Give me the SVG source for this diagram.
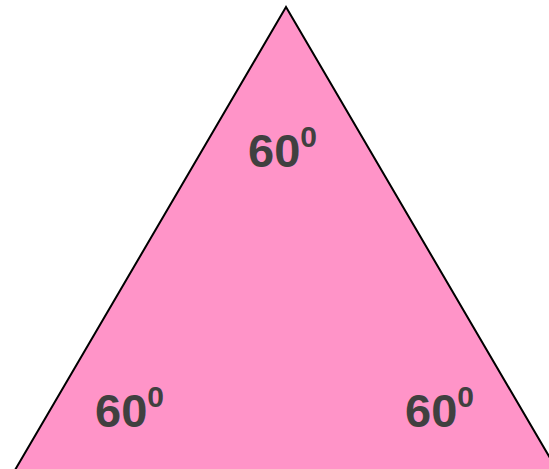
<svg xmlns="http://www.w3.org/2000/svg" width="549" height="469" viewBox="0 0 549 469">
<style>
.lbl{font-family:"Liberation Sans",Arial,sans-serif;font-weight:bold;fill:#404040;font-size:47px}
.sup{font-size:30px}
</style>
<rect width="549" height="469" fill="#ffffff"/>
<g id="triangle">
<polygon points="286,7 15,470 557,470" fill="#FF94C8" stroke="#000000" stroke-width="2" stroke-linejoin="miter"/>
</g>
<g id="angle-top"><text class="lbl" x="248" y="167">60<tspan class="sup" dy="-20">0</tspan></text></g>
<g id="angle-left"><text class="lbl" x="95" y="427">60<tspan class="sup" dy="-20">0</tspan></text></g>
<g id="angle-right"><text class="lbl" x="405" y="427">60<tspan class="sup" dy="-20">0</tspan></text></g>
</svg>
